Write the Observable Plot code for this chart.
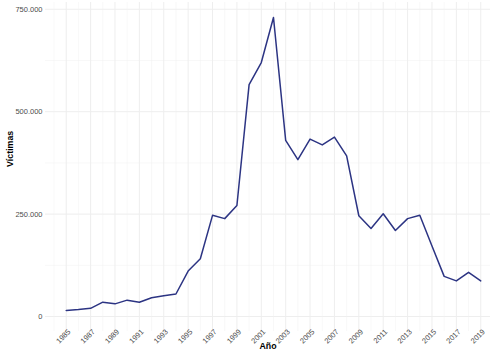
<!DOCTYPE html>
<html>
<head>
<meta charset="utf-8">
<script src="https://cdn.jsdelivr.net/npm/d3@7"></script>
<script src="https://cdn.jsdelivr.net/npm/@observablehq/plot@0.6"></script>
<style>
  html, body { margin: 0; padding: 0; background: #ffffff; }
  #chart { width: 494px; height: 360px; }
</style>
</head>
<body>
<div id="chart"></div>
<script>
const years = [1985,1986,1987,1988,1989,1990,1991,1992,1993,1994,1995,1996,1997,1998,1999,2000,2001,2002,2003,2004,2005,2006,2007,2008,2009,2010,2011,2012,2013,2014,2015,2016,2017,2018,2019];
const victims = [15000,17000,20000,35000,31000,40000,35000,46000,51000,55000,111000,141000,247000,239000,271000,566000,620000,730000,430000,383000,433000,419000,438000,392000,246000,215000,251000,210000,239000,247000,172000,98000,87000,108000,87000];
const xTickYears = [1985,1987,1989,1991,1993,1995,1997,1999,2001,2003,2005,2007,2009,2011,2013,2015,2017,2019];
const xMinorYears = [1984,1986,1988,1990,1992,1994,1996,1998,2000,2002,2004,2006,2008,2010,2012,2014,2016,2018];
const yTicks = [0, 250000, 500000, 750000];
const yMinor = [125000, 375000, 625000];
const xTitle = "Año";
const yTitle = "Víctimas";

const data = years.map((y, i) => ({year: y, value: victims[i]}));
const fmt = v => d3.format(",")(v).replace(/,/g, ".");
const font = "'Liberation Sans', Arial, Helvetica, sans-serif";

const chart = Plot.plot({
  width: 494,
  height: 360,
  marginLeft: 45,
  marginRight: 4,
  marginTop: 2,
  marginBottom: 29,
  style: {fontFamily: font, background: "#ffffff"},
  x: {domain: [1983.3, 2019.8], axis: null},
  y: {domain: [-36500, 766500], axis: null},
  marks: [
    Plot.ruleY(yMinor, {stroke: "#f0f0f0", strokeWidth: 0.5}),
    Plot.ruleY(yTicks, {stroke: "#eeeeee", strokeWidth: 1}),
    Plot.ruleX(xMinorYears, {stroke: "#f0f0f0", strokeWidth: 0.5}),
    Plot.ruleX(xTickYears, {stroke: "#eeeeee", strokeWidth: 1}),
    Plot.line(data, {x: "year", y: "value", stroke: "#2c3483", strokeWidth: 1.5}),
    Plot.text(yTicks, {
      y: d => d, text: d => fmt(d), frameAnchor: "left", textAnchor: "end",
      dx: -3, fill: "#4d4d4d", fontSize: 7.5
    }),
    Plot.text(xTickYears, {
      x: d => d, text: d => String(d), frameAnchor: "bottom", textAnchor: "end",
      lineAnchor: "top", rotate: -45, dx: 1, dy: -3, fill: "#4d4d4d", fontSize: 7.5
    }),
    Plot.text([xTitle], {
      text: d => d, frameAnchor: "bottom", dy: 17, fontWeight: "bold",
      fontSize: 8.8, fill: "#000000"
    }),
    Plot.text([yTitle], {
      text: d => d, frameAnchor: "left", dx: -35, rotate: -90, fontWeight: "bold",
      fontSize: 8.8, fill: "#000000"
    })
  ]
});
document.getElementById("chart").appendChild(chart);
</script>
</body>
</html>
